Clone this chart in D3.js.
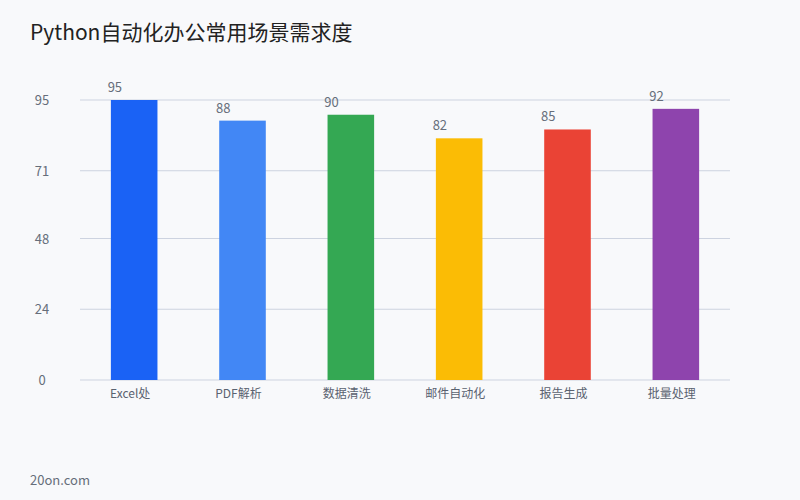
<!DOCTYPE html><html><head><meta charset="utf-8"><script src="https://cdn.jsdelivr.net/npm/d3@7"></script>
<style>body{margin:0;background:#f8f9fb;font-family:"Noto Sans CJK SC","Noto Sans",sans-serif}</style></head><body>
<svg id="c" width="800" height="500"></svg>
<script>
const categories=["Excel处","PDF解析","数据清洗","邮件自动化","报告生成","批量处理"];
const values=[95,88,90,82,85,92];
const colors=["#1a62f5","#4287f5","#34a853","#fbbc05","#ea4335","#8e44ad"];
const tickValues=[0,24,48,71,95];
const svg=d3.select("#c");
svg.append("rect").attr("width",800).attr("height",500).attr("fill","#f8f9fb");
const x=d3.scaleBand().domain(categories).range([80,730]).paddingInner(0.57).paddingOuter(0.285);
const y=d3.scaleLinear().domain([0,95]).range([380,100]);
svg.append("text").attr("x",30).attr("y",40).attr("font-size",21).attr("fill","#222").text("Python自动化办公常用场景需求度");
svg.selectAll(".g").data(tickValues).join("line").attr("x1",80).attr("x2",730).attr("y1",d=>y(d)).attr("y2",d=>y(d)).attr("stroke","#cdd3e0");
svg.selectAll(".yl").data(tickValues).join("text").attr("x",42).attr("y",d=>y(d)+5).attr("text-anchor","middle").attr("font-size",13).attr("fill","#666e7a").text(d=>d);
svg.selectAll(".b").data(values).join("rect").attr("x",(d,i)=>x(categories[i])).attr("width",x.bandwidth()).attr("y",d=>y(d)).attr("height",d=>380-y(d)).attr("fill",(d,i)=>colors[i]);
svg.selectAll(".v").data(values).join("text").attr("x",(d,i)=>x(categories[i])+4).attr("y",d=>y(d)-8).attr("text-anchor","middle").attr("font-size",13).attr("fill","#666e7a").text(d=>d);
svg.selectAll(".xl").data(categories).join("text").attr("x",d=>x(d)+x.bandwidth()/2-4).attr("y",398).attr("text-anchor","middle").attr("font-size",12).attr("fill","#5a6270").text(d=>d);
svg.append("text").attr("x",30).attr("y",485).attr("font-size",13).attr("fill","#666e7a").text("20on.com");
</script></body></html>
